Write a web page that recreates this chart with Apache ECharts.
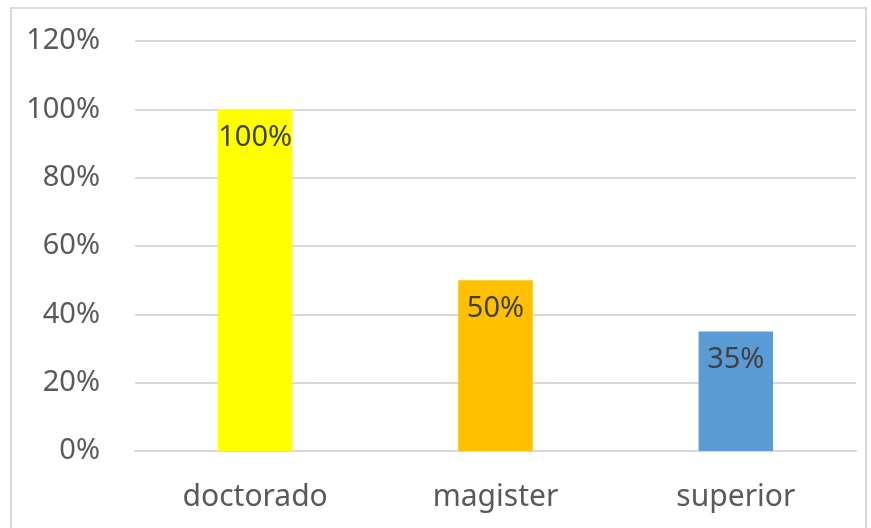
<!DOCTYPE html>
<html>
<head>
<meta charset="utf-8">
<script src="https://cdn.jsdelivr.net/npm/echarts@6/dist/echarts.min.js"></script>
<style>
  html, body { margin: 0; padding: 0; background: #fff; }
  #chart { width: 871px; height: 528px; }
</style>
</head>
<body>
<div id="chart"></div>
<script>
// Share of each academic degree
const categories = ['doctorado', 'magister', 'superior'];
const values = [100, 50, 35];
const barColors = ['#FFFF00', '#FFC000', '#5B9BD5'];
const yTicks = [0, 20, 40, 60, 80, 100, 120];

const chart = echarts.init(document.getElementById('chart'), null, { renderer: 'canvas' });

const fontFamily = '"Noto Sans", "Open Sans", sans-serif';

chart.setOption({
  animation: false,
  backgroundColor: '#ffffff',
  graphic: [{
    type: 'rect',
    shape: { x: 11, y: 8, width: 855, height: 530 },
    style: { fill: 'none', stroke: '#d9d9d9', lineWidth: 2 },
    silent: true,
    z: -1
  }],
  grid: { left: 135, right: 15, top: 41, bottom: 77 },
  xAxis: {
    type: 'category',
    data: categories,
    axisLine: { show: true, lineStyle: { color: '#d9d9d9', width: 2 } },
    axisTick: { show: false },
    axisLabel: { color: '#595959', fontSize: 30, fontFamily: fontFamily, margin: 31 }
  },
  yAxis: {
    type: 'value',
    min: yTicks[0],
    max: yTicks[yTicks.length - 1],
    interval: 20,
    axisLine: { show: false },
    axisTick: { show: false },
    splitLine: { lineStyle: { color: '#d9d9d9', width: 2 } },
    axisLabel: {
      color: '#595959', fontSize: 29, fontFamily: fontFamily, margin: 35,
      formatter: v => v + '%'
    }
  },
  series: [{
    type: 'bar',
    barWidth: '31%',
    data: values.map((v, i) => ({ value: v, itemStyle: { color: barColors[i] } })),
    label: {
      show: true,
      position: 'insideTop',
      distance: 14,
      color: '#404040',
      fontSize: 29,
      fontFamily: fontFamily,
      formatter: p => p.value + '%'
    }
  }]
});
</script>
</body>
</html>
